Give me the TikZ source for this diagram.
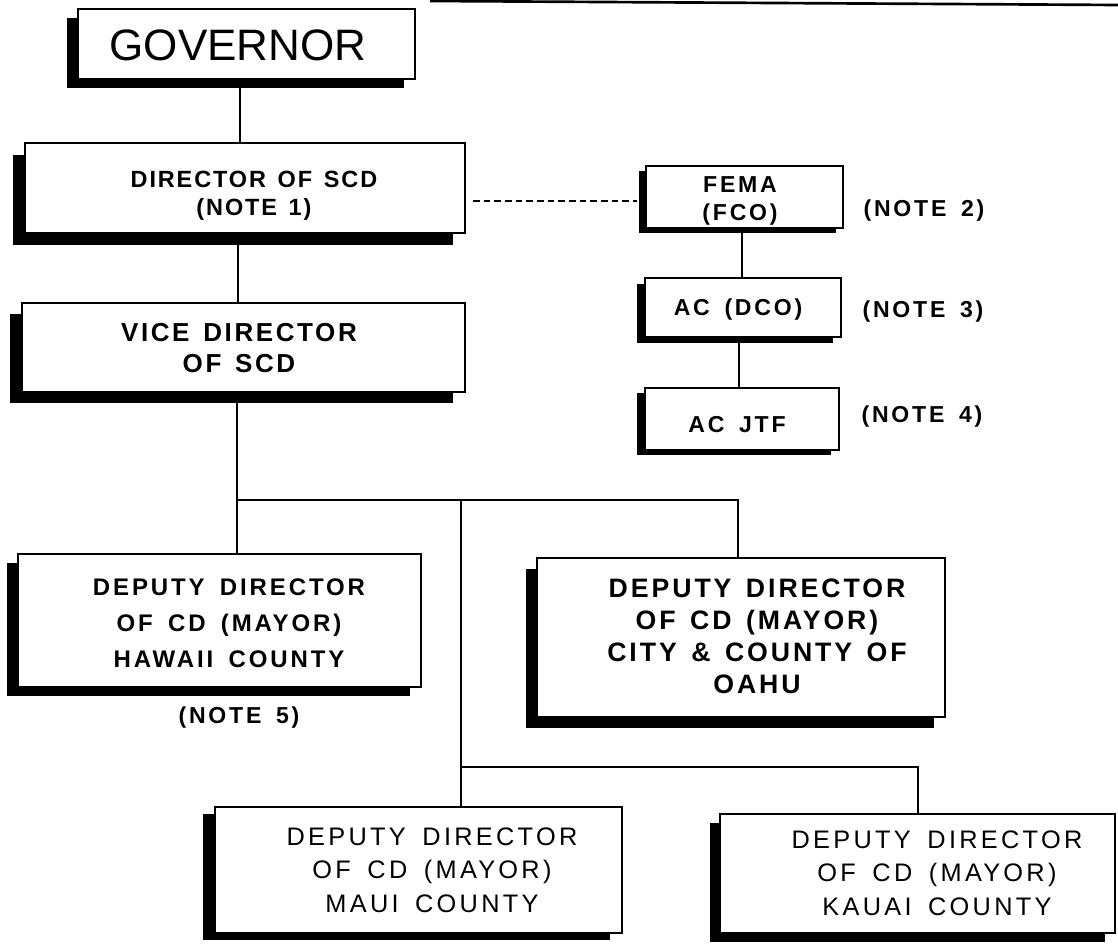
\documentclass[tikz,border=0pt]{standalone}
\usepackage{fontspec}
\setmainfont{Liberation Sans}
\newfontfamily\govf{Liberation Sans}
\newfontfamily\dirf[LetterSpace=8,WordSpace=1.4]{Liberation Sans}
\newfontfamily\vicef[LetterSpace=10,WordSpace=1.4]{Liberation Sans}
\newfontfamily\smallf[LetterSpace=12,WordSpace=1.8]{Liberation Sans}
\newfontfamily\depf[LetterSpace=13,WordSpace=1.6]{Liberation Sans}
\newfontfamily\hawf[LetterSpace=12,WordSpace=1.6]{Liberation Sans}
\newfontfamily\oahuf[LetterSpace=11,WordSpace=1.4]{Liberation Sans}
\usetikzlibrary{shadows}
\newlength\pxu \setlength\pxu{0.75pt}
\tikzset{
  sbox/.style n args={4}{draw, line width=1.5pt, fill=white,
    minimum width=#1\pxu, minimum height=#2\pxu, inner sep=0pt,
    general shadow={fill=black, shadow xshift=-#3\pxu, shadow yshift=-#4\pxu}},
  txt/.style={align=center, inner sep=0pt},
  govt/.style={txt, font=\govf\fontsize{33}{38}\selectfont},
  dirt/.style={txt, font=\dirf\bfseries\fontsize{17.6}{21}\selectfont},
  vicet/.style={txt, font=\vicef\bfseries\fontsize{19.5}{23.3}\selectfont},
  smallt/.style={txt, font=\smallf\bfseries\fontsize{17.3}{21}\selectfont},
  dept/.style={txt, font=\depf\fontsize{19}{25}\selectfont},
  hawt/.style={txt, font=\hawf\bfseries\fontsize{18}{27}\selectfont},
  oahut/.style={txt, font=\oahuf\bfseries\fontsize{20}{24}\selectfont},
  conn/.style={line width=1.2pt},
  dconn/.style={line width=1.2pt, dash pattern=on 5pt off 3pt}
}
\begin{document}
\begin{tikzpicture}[x=0.75pt, y=-0.75pt]
\fill[white] (0,0) rectangle (1118,944);
\useasboundingbox (0,0) rectangle (1118,944);
% scan edge at the top
\draw[line width=2pt] (430,1) -- (1118,5);

% boxes
\node[sbox={337}{70}{11}{9}]   (gov)   at (246.5,44)  {};
\node[sbox={440}{90}{12}{12}]  (dir)   at (245,188)   {};
\node[sbox={443}{89}{12}{11}]  (vice)  at (243.5,347.5) {};
\node[sbox={197}{62}{7}{5}]    (fema)  at (744.5,197) {};
\node[sbox={196}{59}{8}{6}]    (acdco) at (743,307.5) {};
\node[sbox={194}{62}{8}{5}]    (acjtf) at (742,419)   {};
\node[sbox={403}{133}{11}{9}]  (haw)   at (219.5,620.5) {};
\node[sbox={408}{159}{11}{11}] (oahu)  at (741,637.5) {};
\node[sbox={407}{126}{12}{7}]  (maui)  at (418.5,870) {};
\node[sbox={395}{119}{10}{9}]  (kauai) at (917.5,873.5) {};

% texts
\node[govt]   (govT)   at (238,45)   {GOVERNOR};
\node[dirt]   (dirT)   at (254,196)  {DIRECTOR OF SCD\\(NOTE 1)};
\node[vicet]  (viceT)  at (239,348)  {VICE DIRECTOR\\OF SCD};
\node[smallt] (femaT)  at (740,201)  {FEMA\\(FCO)};
\node[smallt] (acdcoT) at (738,310)  {AC (DCO)};
\node[smallt] (acjtfT) at (737,425)  {AC JTF};
\node[smallt] (n2)     at (924,211)  {(NOTE 2)};
\node[smallt] (n3)     at (923,312)  {(NOTE 3)};
\node[smallt] (n4)     at (922,417)  {(NOTE 4)};
\node[smallt] (n5)     at (239,718)  {(NOTE 5)};
\node[hawt]   (hawT)   at (229,623)  {DEPUTY DIRECTOR\\OF CD (MAYOR)\\HAWAII COUNTY};
\node[oahut]  (oahuT)  at (757,636)  {DEPUTY DIRECTOR\\OF CD (MAYOR)\\CITY \& COUNTY OF\\OAHU};
\node[dept]   (mauiT)  at (432,870)  {DEPUTY DIRECTOR\\OF CD (MAYOR)\\MAUI COUNTY};
\node[dept]   (kauaiT) at (937,873)  {DEPUTY DIRECTOR\\OF CD (MAYOR)\\KAUAI COUNTY};

% connectors
\coordinate (c1) at (240,0);
\coordinate (c2) at (238,0);
\coordinate (c3) at (742,0);
\coordinate (c4) at (739,0);
\coordinate (j1) at (237,500);
\coordinate (j2) at (461,500);
\coordinate (j4) at (738,500);
\coordinate (j3) at (461,767);
\coordinate (j5) at (918,767);
\coordinate (d2) at (637,201);

\draw[conn] (gov.south -| c1) -- (dir.north -| c1);
\draw[conn] (dir.south -| c2) -- (vice.north -| c2);
\draw[conn] (vice.south -| j1) -- (j1) -- (j4) -- (j4 |- oahu.north);
\draw[conn] (j1) -- (j1 |- haw.north);
\draw[conn] (j2) -- (j2 |- maui.north);
\draw[conn] (j3) -- (j5) -- (j5 |- kauai.north);
\draw[conn] (fema.south -| c3) -- (acdco.north -| c3);
\draw[conn] (acdco.south -| c4) -- (acjtf.north -| c4);
\draw[dconn, shorten <=7\pxu] (dir.east |- d2) -- (d2);
\end{tikzpicture}
\end{document}
